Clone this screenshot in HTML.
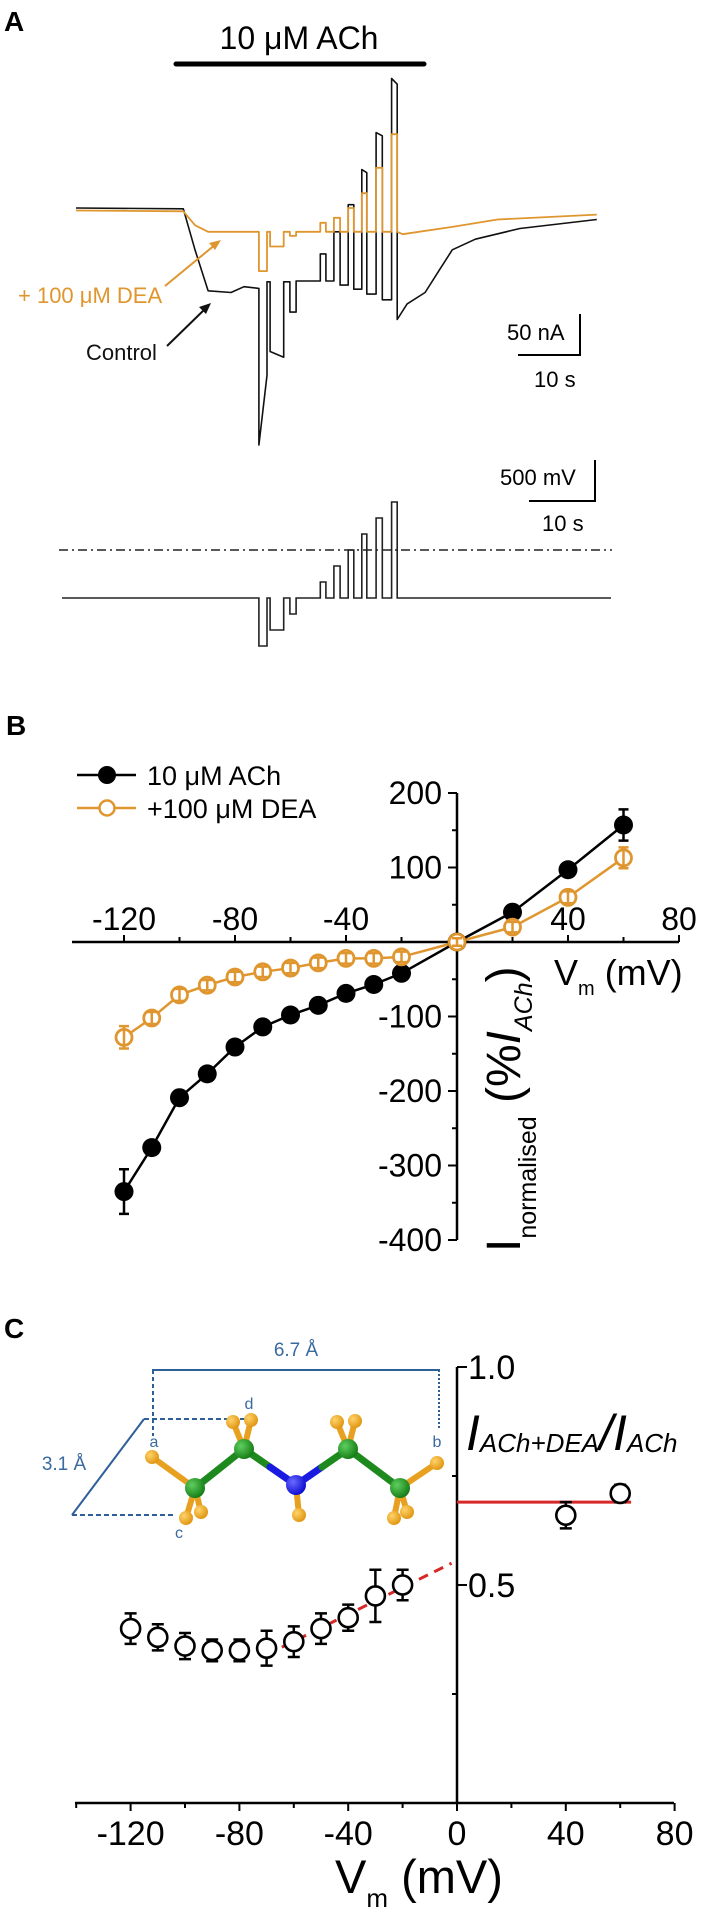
<!DOCTYPE html>
<html><head><meta charset="utf-8"><style>
html,body{margin:0;padding:0;background:#fff}
svg{display:block}
text{font-family:"Liberation Sans",Arial,sans-serif}
</style></head><body>
<svg id="fig" width="708" height="1931" viewBox="0 0 708 1931" xmlns="http://www.w3.org/2000/svg">
<defs>
<radialGradient id="gC" cx="35%" cy="35%" r="70%"><stop offset="0" stop-color="#5fcf5f"/><stop offset="1" stop-color="#137a13"/></radialGradient>
<radialGradient id="gH" cx="35%" cy="35%" r="70%"><stop offset="0" stop-color="#ffd36a"/><stop offset="1" stop-color="#e0940f"/></radialGradient>
<radialGradient id="gN" cx="35%" cy="35%" r="70%"><stop offset="0" stop-color="#6a6aff"/><stop offset="1" stop-color="#0a0ad0"/></radialGradient>
</defs>
<!-- Panel A -->
<text x="4" y="31" font-size="28" font-weight="bold">A</text>
<text x="299" y="49" font-size="32" text-anchor="middle">10 μM ACh</text>
<line x1="176" y1="64" x2="424" y2="64" stroke="#000" stroke-width="5" stroke-linecap="round"/>
<g id="traceA"></g>
<text x="18" y="303" font-size="22" fill="#e0962e">+ 100 μM DEA</text>
<line x1="165" y1="286" x2="216" y2="244" stroke="#e0962e" stroke-width="2"/>
<polygon points="221,240 209,243 215,250" fill="#e0962e"/>
<text x="86" y="360" font-size="22" fill="#111">Control</text>
<line x1="167" y1="346" x2="206" y2="308" stroke="#111" stroke-width="2"/>
<polygon points="211,303 199,307 206,314" fill="#111"/>
<g>
<text x="507" y="340" font-size="22">50 nA</text>
<polyline points="580,314 580,355 518,355" fill="none" stroke="#000" stroke-width="2"/>
<text x="534" y="387" font-size="22">10 s</text>
</g>
<g>
<text x="500" y="485" font-size="22">500 mV</text>
<polyline points="595,460 595,501 529,501" fill="none" stroke="#000" stroke-width="2"/>
<text x="542" y="531" font-size="22">10 s</text>
</g>
<line x1="59" y1="550" x2="612" y2="550" stroke="#222" stroke-width="1.6" stroke-dasharray="9 4 2 4"/>
<g id="traceV"></g>

<!-- Panel B -->
<text x="6" y="735" font-size="28" font-weight="bold">B</text>
<g>
<line x1="77" y1="775" x2="136" y2="775" stroke="#000" stroke-width="2.5"/>
<circle cx="107" cy="775" r="9" fill="#000"/>
<text x="147" y="785" font-size="27">10 μM ACh</text>
<line x1="77" y1="808" x2="136" y2="808" stroke="#e0962e" stroke-width="2.5"/>
<circle cx="107" cy="808" r="7.5" fill="#fff" stroke="#e0962e" stroke-width="2.5"/>
<text x="147" y="818" font-size="27">+100 μM DEA</text>
</g>
<g id="axesB"></g>
<g id="plotB"></g>
<text x="554" y="985" font-size="36">V<tspan font-size="20" dy="10">m</tspan><tspan dy="-10"> (mV)</tspan></text>
<text transform="translate(520,1252) rotate(-90)" font-size="48">I<tspan font-size="25" dy="16">normalised</tspan><tspan dy="-16"> (%</tspan><tspan font-style="italic">I</tspan><tspan font-size="25" font-style="italic" dy="12">ACh</tspan><tspan dy="-12">)</tspan></text>

<!-- Panel C -->
<text x="4" y="1338" font-size="28" font-weight="bold">C</text>
<g>
<text x="296" y="1356" font-size="19" fill="#3a6a9e" text-anchor="middle">6.7 Å</text>
<polyline points="153,1372 153,1370 439,1370 439,1372" fill="none" stroke="#2f5f99" stroke-width="2"/>
<line x1="153" y1="1370" x2="153" y2="1436" stroke="#2f5f99" stroke-width="2" stroke-dasharray="4 3"/>
<line x1="439" y1="1370" x2="439" y2="1428" stroke="#2f5f99" stroke-width="2" stroke-dasharray="2 2"/>
<line x1="144" y1="1419" x2="247" y2="1419" stroke="#2f5f99" stroke-width="2" stroke-dasharray="5 3"/>
<line x1="144" y1="1419" x2="72" y2="1515" stroke="#2f5f99" stroke-width="2"/>
<line x1="72" y1="1515" x2="174" y2="1515" stroke="#2f5f99" stroke-width="2" stroke-dasharray="5 3"/>
<text x="64" y="1470" font-size="19" fill="#3a6a9e" text-anchor="middle">3.1 Å</text>
<text x="154" y="1447" font-size="16" fill="#3a6a9e" text-anchor="middle">a</text>
<text x="437" y="1447" font-size="16" fill="#3a6a9e" text-anchor="middle">b</text>
<text x="179" y="1538" font-size="16" fill="#3a6a9e" text-anchor="middle">c</text>
<text x="249" y="1409" font-size="16" fill="#3a6a9e" text-anchor="middle">d</text>
<g stroke-width="6" stroke-linecap="round">
<line x1="152" y1="1457" x2="195" y2="1488" stroke="#e8a020"/>
<line x1="186" y1="1518" x2="195" y2="1488" stroke="#e8a020"/>
<line x1="201" y1="1512" x2="195" y2="1488" stroke="#e8a020"/>
<line x1="233" y1="1422" x2="244" y2="1449" stroke="#e8a020"/>
<line x1="251" y1="1420" x2="244" y2="1449" stroke="#e8a020"/>
<line x1="299" y1="1515" x2="296" y2="1485" stroke="#e8a020"/>
<line x1="337" y1="1422" x2="348" y2="1449" stroke="#e8a020"/>
<line x1="355" y1="1421" x2="348" y2="1449" stroke="#e8a020"/>
<line x1="437" y1="1463" x2="400" y2="1488" stroke="#e8a020"/>
<line x1="394" y1="1518" x2="400" y2="1488" stroke="#e8a020"/>
<line x1="407" y1="1512" x2="400" y2="1488" stroke="#e8a020"/>
<line x1="195" y1="1488" x2="244" y2="1449" stroke="#1e8a1e" stroke-width="7"/>
<line x1="244" y1="1449" x2="270" y2="1467" stroke="#1e8a1e" stroke-width="7"/>
<line x1="270" y1="1467" x2="296" y2="1485" stroke="#1a1ae0" stroke-width="7"/>
<line x1="296" y1="1485" x2="322" y2="1467" stroke="#1a1ae0" stroke-width="7"/>
<line x1="322" y1="1467" x2="348" y2="1449" stroke="#1e8a1e" stroke-width="7"/>
<line x1="348" y1="1449" x2="400" y2="1488" stroke="#1e8a1e" stroke-width="7"/>
</g>
<g fill="url(#gH)">
<circle cx="152" cy="1457" r="7"/><circle cx="186" cy="1518" r="7"/><circle cx="201" cy="1512" r="7"/>
<circle cx="233" cy="1422" r="7"/><circle cx="251" cy="1420" r="7"/><circle cx="299" cy="1515" r="7"/>
<circle cx="337" cy="1422" r="7"/><circle cx="355" cy="1421" r="7"/><circle cx="437" cy="1463" r="7"/>
<circle cx="394" cy="1518" r="7"/><circle cx="407" cy="1512" r="7"/>
</g>
<circle cx="195" cy="1488" r="10" fill="url(#gC)"/><circle cx="244" cy="1449" r="10" fill="url(#gC)"/>
<circle cx="296" cy="1485" r="10" fill="url(#gN)"/>
<circle cx="348" cy="1449" r="10" fill="url(#gC)"/><circle cx="400" cy="1488" r="10" fill="url(#gC)"/>
</g>
<g id="axesC"></g>
<g id="plotC"></g>
<text x="466" y="1450" font-size="50" font-style="italic">I<tspan font-size="26" dy="2">ACh+DEA</tspan><tspan font-size="50" dy="-2">/I</tspan><tspan font-size="26" dy="2">ACh</tspan></text>
<text x="335" y="1893" font-size="47">V<tspan font-size="26" dy="14">m</tspan><tspan dy="-14"> (mV)</tspan></text>
</svg>
<script>
// ---- Panel A data (time s, current nA, voltage mV) ----
const pulseStart = [29.5, 31.3, 34.5, 39.4, 41.6, 43.9, 46.1, 48.4, 50.9];
const pulseEnd   = [30.8, 33.5, 35.5, 40.3, 42.6, 44.8, 46.9, 49.4, 51.8];
const pulseVolt  = [-120, -100, -80, -40, -20, 0, 20, 40, 60];
const holdVolt = -60;
const ctrlPreT = [0, 17.3, 19.2, 21.3, 25, 27.1, 29.5];
const ctrlPreI = [0, -1, -51, -101, -103, -96, -98];
const ctrlPulseStartI = [-289, -175, -127, -56, -29, 4, 47, 92, 158];
const ctrlPulseEndI   = [-204, -182, -127, -56, -29, 4, 43, 88, 151];
const ctrlHoldI = [-90, -90, -89, -89, -94, -99, -105, -112];
const ctrlPostT = [51.8, 53.4, 56.3, 58.5, 60.7, 64.4, 71.6, 84];
const ctrlPostI = [-136, -117, -103, -77, -51, -38, -25, -14];
const deaPreT = [0, 17.3, 19.2, 21.3, 29.5];
const deaPreI = [-3, -4, -21, -29, -29];
const deaPulseI = [-77, -47, -34, -18, -12, 0, 18, 49, 90];
const deaHoldI = [-29, -29, -29, -29, -29, -29, -29, -29];
const deaPostT = [51.8, 52.7, 60.7, 68, 84];
const deaPostI = [-29, -32, -23, -14, -8];

// ---- Panel B data (mV, % I_ACh) ----
const ivV = [-120, -110, -100, -90, -80, -70, -60, -50, -40, -30, -20, 0, 20, 40, 60];
const ivAch = [-335, -276, -209, -177, -141, -114, -98, -85, -69, -57, -42, 0, 40, 97, 157];
const ivAchErr = [30, 8, 8, 8, 8, 6, 6, 6, 6, 6, 6, 4, 6, 8, 21];
const ivDea = [-128, -102, -71, -58, -47, -40, -35, -28, -22, -22, -20, 0, 20, 60, 113];
const ivDeaErr = [15, 8, 8, 7, 7, 7, 7, 7, 7, 7, 7, 5, 7, 8, 14];
const ivXTicks = [-120, -80, -40, 40, 80];
const ivYTicks = [200, 100, -100, -200, -300, -400];

// ---- Panel C data (mV, ratio) ----
const rV = [-120, -110, -100, -90, -80, -70, -60, -50, -40, -30, -20, 40, 60];
const rVal = [0.40, 0.38, 0.36, 0.35, 0.35, 0.355, 0.37, 0.40, 0.425, 0.475, 0.50, 0.66, 0.71];
const rErr = [0.035, 0.03, 0.03, 0.025, 0.025, 0.04, 0.035, 0.035, 0.03, 0.06, 0.035, 0.03, 0.02];
const fitDashV = [-70, -2];
const fitDashR = [0.34, 0.55];
const fitSolidV = [0, 64];
const fitSolidR = [0.69, 0.69];
const rXTicks = [-120, -80, -40, 0, 40, 80];
const rYTicks = [1.0, 0.5];

const NS = "http://www.w3.org/2000/svg";
function mk(tag, attrs, parent){const e=document.createElementNS(NS,tag);for(const k in attrs)e.setAttribute(k,attrs[k]);parent.appendChild(e);return e;}

const tx = t => 76 + t*6.2;
const ty = I => 208 - I*0.82;
const vy = V => 550 - V*0.8;

function tracePath(preT, preI, pS, pE, hold, postT, postI){
  let pts = [];
  for(let i=0;i<preT.length;i++) pts.push([tx(preT[i]), ty(preI[i])]);
  let cur = preI[preI.length-1];
  for(let i=0;i<pulseStart.length;i++){
    pts.push([tx(pulseStart[i]), ty(cur)]);
    pts.push([tx(pulseStart[i]), ty(pS[i])]);
    pts.push([tx(pulseEnd[i]), ty(pE[i])]);
    cur = i < hold.length ? hold[i] : postI[0];
    pts.push([tx(pulseEnd[i]), ty(cur)]);
  }
  for(let i=0;i<postT.length;i++) pts.push([tx(postT[i]), ty(postI[i])]);
  return "M" + pts.map(p=>p[0].toFixed(1)+","+p[1].toFixed(1)).join("L");
}
const gA = document.getElementById("traceA");
const ctrl = mk("path",{d:tracePath(ctrlPreT,ctrlPreI,ctrlPulseStartI,ctrlPulseEndI,ctrlHoldI,ctrlPostT,ctrlPostI),fill:"none",stroke:"#111","stroke-width":1.6,"stroke-linejoin":"round"},gA);


const dea = mk("path",{d:tracePath(deaPreT,deaPreI,deaPulseI,deaPulseI,deaHoldI,deaPostT,deaPostI),fill:"none",stroke:"#e0962e","stroke-width":1.8,"stroke-linejoin":"round"},gA);



(function(){
  let pts=[[62,vy(holdVolt)]];
  for(let i=0;i<pulseStart.length;i++){
    pts.push([tx(pulseStart[i]),vy(holdVolt)]);
    pts.push([tx(pulseStart[i]),vy(pulseVolt[i])]);
    pts.push([tx(pulseEnd[i]),vy(pulseVolt[i])]);
    pts.push([tx(pulseEnd[i]),vy(holdVolt)]);
  }
  pts.push([611,vy(holdVolt)]);
  const p = mk("path",{d:"M"+pts.map(q=>q[0].toFixed(1)+","+q[1].toFixed(1)).join("L"),fill:"none",stroke:"#222","stroke-width":1.6},document.getElementById("traceV"));
  
  
})();

const bx = v => 457 + v*2.775;
const by = p => 942 - p*0.745;
(function(){
  const g = document.getElementById("axesB");
  const xa = mk("line",{x1:72,y1:942,x2:679,y2:942,stroke:"#000","stroke-width":2.5},g);
  
  
  const ya = mk("line",{x1:457,y1:by(200),x2:457,y2:by(-400),stroke:"#000","stroke-width":2.5},g);
  
  
  for(let v=-120; v<=80; v+=20){
    const major = (v%40===0);
    mk("line",{x1:bx(v),y1:942,x2:bx(v),y2:942-(major?7:5),stroke:"#000","stroke-width":2},g);
  }
  for(let p=-400; p<=200; p+=50){
    const major = (p%100===0);
    mk("line",{x1:457,y1:by(p),x2:457-(major?9:5),y2:by(p),stroke:"#000","stroke-width":2},g);
  }
  ivXTicks.forEach(v=>{
    const t = mk("text",{x:bx(v),y:930,"font-size":32,"text-anchor":"middle"},g);
    t.textContent = String(v);
    
    
  });
  ivYTicks.forEach(p=>{
    const t = mk("text",{x:442,y:by(p)+11,"font-size":32,"text-anchor":"end"},g);
    t.textContent = String(p);
    
    
  });
  const gp = document.getElementById("plotB");
  const lineD = mk("polyline",{points:ivV.map((v,i)=>bx(v)+","+by(ivDea[i])).join(" "),fill:"none",stroke:"#e0962e","stroke-width":2.5},gp);
  
  
  const lineA = mk("polyline",{points:ivV.map((v,i)=>bx(v)+","+by(ivAch[i])).join(" "),fill:"none",stroke:"#000","stroke-width":2.5},gp);
  
  
  ivV.forEach((v,i)=>{
    const x=bx(v), y=by(ivAch[i]), e=ivAchErr[i]*0.745;
    const eb = mk("path",{d:`M${x},${y-e}V${y+e}M${x-5},${y-e}H${x+5}M${x-5},${y+e}H${x+5}`,stroke:"#000","stroke-width":2.5,fill:"none"},gp);
    
    
    const c = mk("circle",{cx:x,cy:y,r:9.5,fill:"#000"},gp);
    
    
  });
  ivV.forEach((v,i)=>{
    const x=bx(v), y=by(ivDea[i]), e=ivDeaErr[i]*0.745;
    const c = mk("circle",{cx:x,cy:y,r:8,fill:"#fff",stroke:"#e0962e","stroke-width":2.8},gp);
    
    
    const eb = mk("path",{d:`M${x},${y-e}V${y+e}M${x-5},${y-e}H${x+5}M${x-5},${y+e}H${x+5}`,stroke:"#e0962e","stroke-width":2.5,fill:"none"},gp);
    
    
  });
})();

const cx = v => 457 + v*2.72;
const cy = r => 1803 - r*436;
(function(){
  const g = document.getElementById("axesC");
  const xa = mk("line",{x1:75,y1:1803,x2:674,y2:1803,stroke:"#000","stroke-width":2.5},g);
  
  
  const ya = mk("line",{x1:457,y1:cy(1.0),x2:457,y2:1803,stroke:"#000","stroke-width":2.5},g);
  
  
  for(let v=-140; v<=80; v+=20){
    const major = (v%40===0);
    mk("line",{x1:cx(v),y1:1803,x2:cx(v),y2:1803+(major?8:5),stroke:"#000","stroke-width":2},g);
  }
  [1.0,0.5].forEach(r=>mk("line",{x1:457,y1:cy(r),x2:467,y2:cy(r),stroke:"#000","stroke-width":2},g));
  [0.75,0.25].forEach(r=>mk("line",{x1:452,y1:cy(r),x2:457,y2:cy(r),stroke:"#000","stroke-width":2},g));
  rXTicks.forEach(v=>{
    const t = mk("text",{x:cx(v),y:1845,"font-size":34,"text-anchor":"middle"},g);
    t.textContent = String(v);
    
    
  });
  rYTicks.forEach(r=>{
    const t = mk("text",{x:468,y:cy(r)+12,"font-size":34},g);
    t.textContent = r.toFixed(1);
    
    
  });
  const gp = document.getElementById("plotC");
  const fd = mk("line",{x1:cx(fitDashV[0]),y1:cy(fitDashR[0]),x2:cx(fitDashV[1]),y2:cy(fitDashR[1]),stroke:"#d62828","stroke-width":3,"stroke-dasharray":"10 7"},gp);
  
  
  const fs = mk("line",{x1:cx(fitSolidV[0]),y1:cy(fitSolidR[0]),x2:cx(fitSolidV[1]),y2:cy(fitSolidR[1]),stroke:"#d62828","stroke-width":3},gp);
  
  
  rV.forEach((v,i)=>{
    const x=cx(v), y=cy(rVal[i]), e=rErr[i]*436;
    const eb = mk("path",{d:`M${x},${y-e}V${y+e}M${x-6},${y-e}H${x+6}M${x-6},${y+e}H${x+6}`,stroke:"#000","stroke-width":2.5,fill:"none"},gp);
    
    
    const c = mk("circle",{cx:x,cy:y,r:9.5,fill:"#fff",stroke:"#000","stroke-width":2.6},gp);
    
    
  });
})();
</script>
</body></html>
